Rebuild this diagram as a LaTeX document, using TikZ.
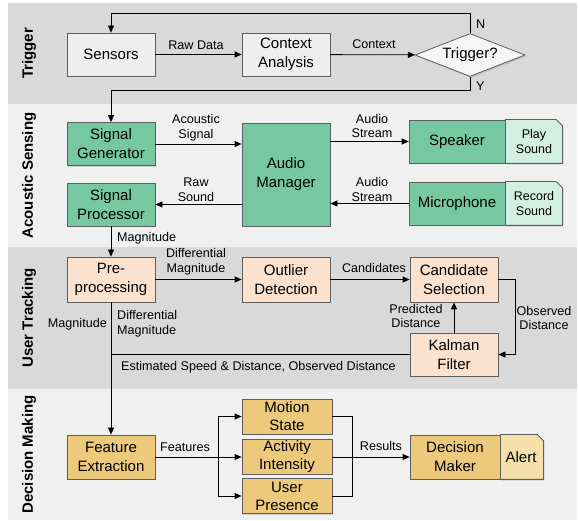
\documentclass[tikz,border=0pt]{standalone}
\usepackage{fontspec}
\setmainfont{Liberation Sans}
\usetikzlibrary{shapes.geometric,arrows.meta,shadows}

\definecolor{bandA}{HTML}{D9D9D9}
\definecolor{bandB}{HTML}{F0F0F0}
\definecolor{grayfill}{HTML}{EEEEEE}
\definecolor{diafill}{HTML}{F6F6F6}
\definecolor{boxline}{HTML}{5E5E5E}
\definecolor{greenfill}{HTML}{76C8A0}
\definecolor{greenlight}{HTML}{D3EFE1}
\definecolor{peachfill}{HTML}{FBE2CF}
\definecolor{goldfill}{HTML}{ECC97B}
\definecolor{goldlight}{HTML}{F5E0AA}

\begin{document}
\begin{tikzpicture}[x=1pt,y=-1pt,
  shade/.style={drop shadow={opacity=0.3, shadow xshift=1.3pt, shadow yshift=-1.3pt}},
  box/.style={draw=boxline, line width=0.8pt, minimum width=88pt, minimum height=43pt,
    inner sep=1pt, align=center, font=\fontsize{15}{19}\selectfont, shade},
  smallbox/.style={box, minimum width=90pt, minimum height=35pt, inner sep=0pt,
    font=\fontsize{15}{18}\selectfont},
  part/.style={draw=boxline, line width=0.8pt, shade},
  lbl/.style={font=\fontsize{12.6}{14.8}\selectfont, align=center, inner sep=1pt},
  partlbl/.style={font=\fontsize{12.5}{15}\selectfont, align=center, inner sep=0pt},
  bandlbl/.style={font=\bfseries\fontsize{15}{17}\selectfont, rotate=90},
  arr/.style={-{Triangle[length=7pt,width=6pt]}, line width=0.8pt},
  ln/.style={line width=0.8pt}]

\useasboundingbox (0,0) rectangle (579,521);

% bands
\fill[bandA] (8,3) rectangle (577,104);
\fill[bandB] (8,104) rectangle (577,247);
\fill[bandA] (8,247) rectangle (577,389);
\fill[bandB] (8,389) rectangle (577,520);

\node[bandlbl] (btrig) at (29,53.5) {Trigger};
\node[bandlbl] (bacou) at (29,175.5) {Acoustic Sensing};
\node[bandlbl] (buser) at (29,318) {User Tracking};
\node[bandlbl] (bdec) at (29,454.5) {Decision Making};

% Trigger
\node[box, fill=grayfill] (sensors) at (111,54.5) {Sensors};
\node[box, fill=grayfill] (context) at (286,54.5) {Context\\Analysis};
\node[diamond, draw=boxline, line width=0.8pt, fill=diafill, aspect=2.56,
  minimum width=110pt, minimum height=43pt, inner sep=0pt,
  font=\fontsize{15}{19}\selectfont, shade] (trig) at (470,55) {Trigger?};

% Acoustic sensing
\node[box, fill=greenfill] (siggen) at (111,144) {Signal\\Generator};
\node[box, fill=greenfill] (sigproc) at (111,204.5) {Signal\\Processor};
\node[box, fill=greenfill, minimum height=103pt] (audiomgr) at (286,174.5) {Audio\\Manager};
\node[box, fill=greenfill, minimum width=96pt] (spk) at (457,141.5) {Speaker};
\path[part, fill=greenlight] (spk.north east) -- ++(51,0) -- ++(6,6) |- (spk.south east) -- cycle;
\node[partlbl] (play) at (534,141.5) {Play\\Sound};
\node[box, fill=greenfill, minimum width=96pt] (mic) at (457,203.5) {Microphone};
\path[part, fill=greenlight] (mic.north east) -- ++(51,0) -- ++(6,6) |- (mic.south east) -- cycle;
\node[partlbl] (rec) at (534,203.5) {Record\\Sound};

% User tracking
\node[box, fill=peachfill, minimum height=45pt] (preproc) at (111,279.5) {Pre-\\processing};
\node[box, fill=peachfill, minimum height=45pt] (outlier) at (286,279.5) {Outlier\\Detection};
\node[box, fill=peachfill, minimum height=45pt] (candsel) at (454,279.5) {Candidate\\Selection};
\node[box, fill=peachfill] (kalman) at (454,354.5) {Kalman\\Filter};

% Decision making
\node[box, fill=goldfill, minimum height=44pt] (featext) at (111,457) {Feature\\Extraction};
\node[smallbox, fill=goldfill] (motion) at (287,416.5) {Motion\\State};
\node[smallbox, fill=goldfill] (activity) at (287,456.5) {Activity\\Intensity};
\node[smallbox, fill=goldfill] (presence) at (287,496) {User\\Presence};
\node[box, fill=goldfill, minimum width=90pt, minimum height=44pt] (decision) at (455,457) {Decision\\Maker};
\path[part, fill=goldlight] (decision.north east) -- ++(37,0) -- ++(6,6) |- (decision.south east) -- cycle;
\node[font=\fontsize{15}{19}\selectfont, inner sep=0pt] (alert) at (521,457) {Alert};

% connectors: trigger
\draw[arr] (sensors) -- (context);
\node[lbl] (lraw) at (196,45) {Raw Data};
\draw[arr] (context) -- (trig);
\node[lbl] (lctx) at (374,44) {Context};
\coordinate (nbend) at (470,13);
\draw[arr] (trig.north) -- (nbend) -| (sensors.north);
\node[lbl, anchor=west] (lN) at (475,24) {N};
\coordinate (ybend) at (470,90);
\draw[arr] (trig.south) -- (ybend) -| (siggen.north);
\node[lbl, anchor=west] (lY) at (475,86) {Y};

% connectors: acoustic
\draw[arr] (siggen.east) -- (siggen.east -| audiomgr.west);
\node[lbl] (lacs) at (196,128) {Acoustic\\Signal};
\draw[arr] (audiomgr.east |- spk.west) -- (spk.west);
\node[lbl] (las1) at (372,126) {Audio\\Stream};
\draw[arr] (mic.west) -- (mic.west -| audiomgr.east);
\node[lbl] (las2) at (372,189.5) {Audio\\Stream};
\draw[arr] (audiomgr.west |- sigproc.east) -- (sigproc.east);
\node[lbl] (lrs) at (196,190) {Raw\\Sound};
\draw[arr] (sigproc.south) -- (preproc.north);
\node[lbl, anchor=west] (lmag1) at (116,238) {Magnitude};

% connectors: tracking
\draw[arr] (preproc) -- (outlier);
\node[lbl] (ldm1) at (196,262) {Differential\\Magnitude};
\draw[arr] (outlier) -- (candsel);
\node[lbl] (lcand) at (374,268) {Candidates};
\coordinate (obsx) at (515,279.5);
\draw[arr] (candsel.east) -- (obsx) |- (kalman.east);
\node[lbl] (lobs) at (544,318) {Observed\\Distance};
\draw[arr] (kalman.north) -- (candsel.south);
\node[lbl] (lpred) at (416,316) {Predicted\\Distance};
\draw[ln] (kalman.west) -- (kalman.west -| preproc.south);
\node[lbl, anchor=west] (lest) at (120,367) {Estimated Speed \& Distance, Observed Distance};
\draw[arr] (preproc.south) -- (featext.north);
\node[lbl, anchor=east] (lmag2) at (108,324) {Magnitude};
\node[lbl, anchor=west, align=left] (ldm2) at (116,324) {Differential\\Magnitude};

% connectors: decision
\coordinate (fsplit) at (218,457);
\draw[ln] (featext.east) -- (fsplit);
\draw[arr] (fsplit) -- (fsplit -| activity.west);
\draw[arr] (fsplit) |- (motion.west);
\draw[arr] (fsplit) |- (presence.west);
\node[lbl] (lfeat) at (185,447) {Features};
\coordinate (rmerge) at (352,457);
\draw[ln] (motion.east) -| (rmerge);
\draw[ln] (presence.east) -| (rmerge);
\draw[arr] (activity.east |- rmerge) -- (decision.west);
\node[lbl] (lres) at (381,446) {Results};

\end{tikzpicture}
\end{document}
